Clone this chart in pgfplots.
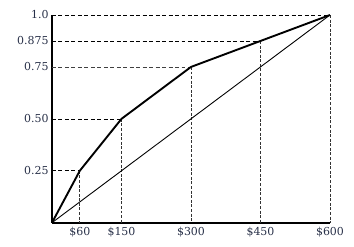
\documentclass[border=0pt]{standalone}
\usepackage{pgfplots}
\pgfplotsset{compat=1.18}
\usepackage{fontspec}
\setmainfont{DejaVu Serif}
\definecolor{lab}{HTML}{283048}
\begin{document}
\begin{tikzpicture}
\begin{axis}[
  at={(0,0)}, anchor=origin,
  scale only axis, width=278bp, height=207.7bp,
  xmin=0, xmax=600, ymin=0, ymax=1,
  axis x line=bottom, axis y line=left,
  axis line style={-, line width=1.8pt, black},
  xtick={60,150,300,450,600},
  xticklabels={\$60,\$150,\$300,\$450,\$600},
  ytick={0.25,0.5,0.75,0.875,1},
  yticklabels={0.25,0.50,0.75,0.875,1.0},
  major tick length=0pt,
  tick label style={font=\fontsize{11}{13}\selectfont, text=lab},
  xticklabel style={yshift=-1pt},
  /pgf/number format/assume math mode=true,
  clip=false,
]
% horizontal dashed guides
\addplot[black, line width=0.6pt, dash pattern=on 4pt off 2.5pt] coordinates {(0,0.25)(60,0.25)};
\addplot[black, line width=0.6pt, dash pattern=on 4pt off 2.5pt] coordinates {(0,0.5)(150,0.5)};
\addplot[black!75, line width=0.6pt, dash pattern=on 4pt off 2.5pt] coordinates {(0,0.75)(300,0.75)};
\addplot[black, line width=0.6pt, dash pattern=on 4pt off 2.5pt] coordinates {(0,0.875)(450,0.875)};
\addplot[black, line width=0.6pt, dash pattern=on 4pt off 2.5pt] coordinates {(0,1)(600,1)};
% vertical dashed guides
\addplot[black!80, line width=0.9pt, dash pattern=on 3pt off 1.6pt] coordinates {(60,0.25)(60,0)};
\addplot[black!80, line width=0.9pt, dash pattern=on 3pt off 1.6pt] coordinates {(150,0.5)(150,0)};
\addplot[black!80, line width=0.9pt, dash pattern=on 3pt off 1.6pt] coordinates {(300,0.75)(300,0)};
\addplot[black!80, line width=0.9pt, dash pattern=on 3pt off 1.6pt] coordinates {(450,0.875)(450,0)};
\addplot[black!80, line width=0.9pt, dash pattern=on 3pt off 1.6pt] coordinates {(600,1)(600,0)};
% diagonal
\addplot[black, line width=0.9pt] coordinates {(0,0)(600,1)};
% curve
\addplot[black, line width=1.9pt, line join=round] coordinates {(0,0)(60,0.25)(150,0.5)(300,0.75)(450,0.875)(600,1)};
\end{axis}
\pgfresetboundingbox
\path[use as bounding box] (-52bp,-24.3bp) rectangle (302bp,222.7bp);
\end{tikzpicture}
\end{document}
